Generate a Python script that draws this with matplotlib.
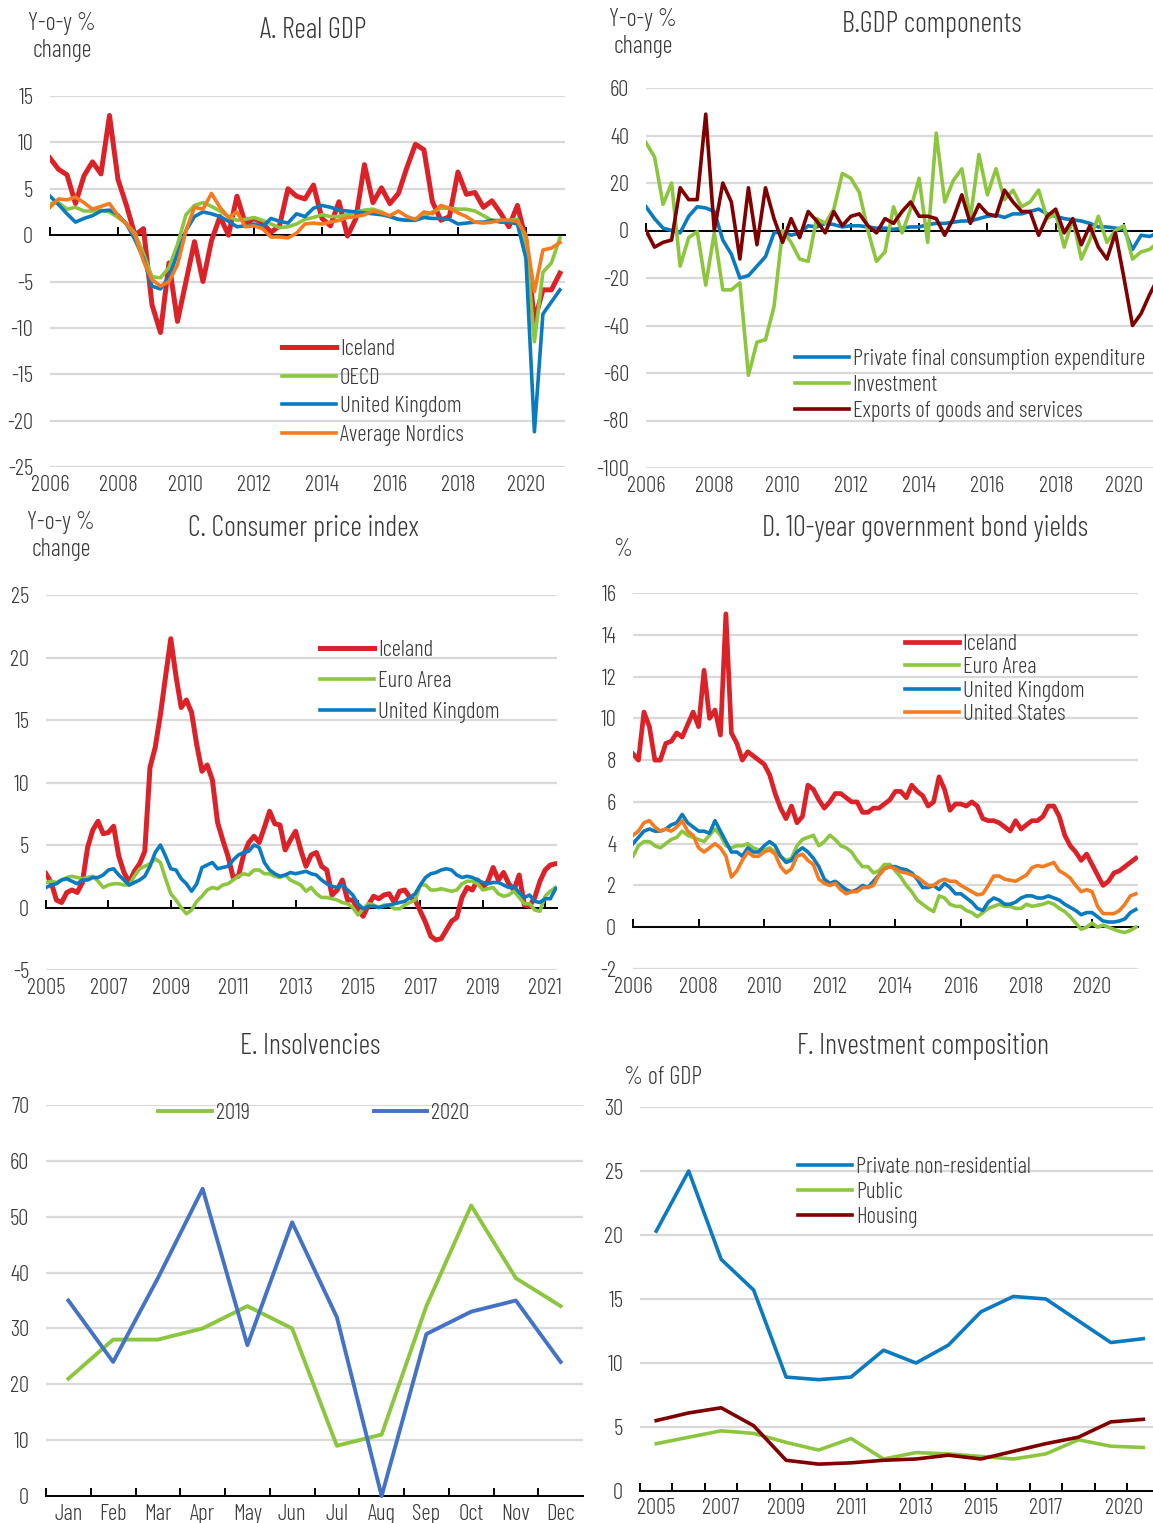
import numpy as np
import matplotlib
matplotlib.use('Agg')
import matplotlib.pyplot as plt

plt.rcParams['font.family'] = ['Barlow Condensed', 'DejaVu Sans']
plt.rcParams['font.weight'] = 300
plt.rcParams['axes.unicode_minus'] = False

###############################################################################
# Data
# A. Real GDP, y-o-y %, quarterly 2006Q1-2021Q1
gdp_quarters = 2006 + np.arange(61) / 4
gdp_iceland = [8.3, 7.1, 6.5, 3.4, 6.4, 7.9, 6.6, 12.9, 6.0, 3.2,
               0.0, 0.7, -7.5, -10.5, -3.0, -9.3, -5.0, -0.7, -5.0, -0.6,
               2.0, 0.0, 4.2, 1.2, 1.8, 1.3, 0.3, 1.0, 5.0, 4.2,
               3.9, 5.4, 1.8, 1.0, 3.6, -0.1, 1.8, 7.6, 3.5, 5.1,
               3.4, 4.5, 7.3, 9.8, 9.2, 3.6, 1.6, 2.0, 6.8, 4.4,
               4.6, 3.0, 3.7, 2.4, 0.9, 3.2, -0.5, -9.3, -5.9, -5.9, -4.1]
gdp_oecd = [3.4, 3.5, 2.8, 3.0, 2.6, 2.6, 2.7, 2.5, 1.9, 1.2,
            0.2, -2.0, -4.5, -4.6, -3.5, -1.0, 2.2, 3.2, 3.5, 3.1,
            2.6, 2.0, 1.6, 1.7, 1.9, 1.6, 1.2, 0.8, 0.9, 1.2,
            1.7, 1.9, 2.2, 2.0, 2.0, 2.2, 2.5, 2.7, 2.8, 2.5,
            2.0, 1.7, 1.6, 1.7, 2.0, 2.5, 2.9, 2.9, 2.8, 2.8,
            2.6, 2.1, 1.6, 1.6, 1.6, 1.7, -0.8, -11.5, -4.0, -3.0, -0.3]
gdp_uk = [4.2, 3.3, 2.3, 1.4, 1.8, 2.1, 2.6, 2.7, 2.2, 1.2,
          -0.5, -2.5, -5.5, -5.8, -4.5, -2.0, 0.5, 2.0, 2.5, 2.3,
          2.0, 1.5, 0.9, 1.0, 1.2, 0.9, 1.8, 1.5, 1.3, 2.3,
          2.0, 2.9, 3.2, 3.0, 2.7, 2.6, 2.5, 2.4, 2.3, 2.2,
          2.0, 1.7, 1.6, 1.6, 1.9, 1.8, 1.8, 1.7, 1.2, 1.3,
          1.4, 1.4, 1.6, 1.4, 1.4, 1.2, -2.5, -21.2, -8.5, -7.2, -5.9]
gdp_nordics = [3.0, 3.9, 3.8, 4.1, 3.5, 2.8, 3.1, 3.4, 2.1, 1.2,
               0.0, -2.8, -4.8, -5.5, -5.0, -3.2, 0.5, 3.0, 2.8, 4.5,
               3.0, 1.9, 2.5, 0.9, 1.0, 0.7, -0.2, -0.2, -0.3, 0.2,
               1.2, 1.3, 1.2, 1.4, 1.6, 1.9, 2.0, 2.2, 2.6, 2.4,
               2.1, 2.6, 2.0, 1.7, 2.5, 2.3, 3.2, 2.9, 2.4, 2.0,
               1.4, 1.3, 1.4, 1.6, 1.6, 1.5, 0.0, -6.1, -1.6, -1.4, -0.8]

# B. GDP components, y-o-y %, quarterly 2006Q1-2021Q1
comp_consumption = [10, 5, 1, 0, -1, 6, 10, 9.5, 8, -4,
                    -10, -20, -19, -15, -11, -1, -0.5, -2, -1, 2,
                    1.5, 3, 2.5, 1.5, 2, 2, 1.5, 1, 1, 0.5,
                    1, 1.5, 1.5, 2.5, 3, 3, 3.5, 4, 4, 5,
                    6, 6.5, 5.5, 7, 7, 8, 9, 7, 6, 5,
                    4.5, 4, 3, 1.5, 1.5, 1, 0.5, -8, -2, -2.5, -1]
comp_investment = [37, 31, 11, 20, -15, -3, -0.5, -23, -1, -25,
                   -25, -22, -61, -47, -46, -32, 0, -5, -12, -13,
                   5, 3, 9, 24, 22, 16, 0, -13, -9, 10,
                   -1, 9, 22, -5, 41, 12, 21, 26, 5, 32,
                   15, 26, 13, 17, 10, 12, 17, 5, 7, -7,
                   5, -12, -4, 6, -5, 0, 2, -12, -9, -8, -5]
comp_exports = [0, -7, -5, -4, 18, 13, 13, 49, 0, 20,
                12, -12, 18, -6, 18, 5, -5, 5, -3, 8,
                4, -1, 8, 2, 6, 7, 2, -1, 5, 3,
                8, 12, 6, 6, 5, -2, 5, 15, 3, 11,
                7, 6, 17, 12, 8, 8, -2, 6, 9, -1,
                5, -6, 2, -7, -12, -1, -20, -40, -35, -27, -20]

# C. Consumer price index, y-o-y %, every two months Jan 2005 - May 2021
cpi_dates = 2005 + np.arange(99) / 6
cpi_iceland = [2.7, 2.0, 0.6, 0.4, 1.2, 1.4, 1.2, 2.0, 4.8, 6.2,
               6.9, 5.9, 6.0, 6.5, 4.1, 2.8, 2.0, 2.9, 3.5, 4.5,
               11.2, 12.8, 15.4, 18.5, 21.5, 18.5, 16.0, 16.6, 15.6, 13.0,
               10.9, 11.4, 10.2, 6.8, 5.4, 4.1, 2.4, 2.5, 4.2, 5.2,
               5.7, 5.2, 6.4, 7.7, 6.7, 6.6, 4.6, 5.4, 6.1, 4.6,
               3.3, 4.2, 4.4, 3.3, 3.0, 1.0, 1.4, 2.2, 0.6, 0.6,
               -0.2, -0.7, 0.2, 0.9, 0.7, 1.0, 1.1, 0.4, 1.3, 1.4,
               0.8, 0.6, -0.3, -1.2, -2.3, -2.6, -2.5, -1.8, -1.1, -0.8,
               0.8, 1.6, 1.4, 2.2, 1.6, 2.1, 3.2, 2.2, 2.8, 1.9,
               1.4, 2.6, 0.2, 0.1, 0.8, 2.1, 3.0, 3.4, 3.5]
cpi_euro = [2.0, 2.1, 2.0, 2.2, 2.4, 2.5, 2.4, 2.3, 2.4, 2.5,
            2.1, 1.6, 1.8, 1.9, 1.9, 1.8, 1.8, 2.5, 3.1, 3.3,
            3.5, 3.9, 3.6, 2.3, 1.1, 0.6, 0.0, -0.5, -0.2, 0.5,
            0.9, 1.4, 1.6, 1.5, 1.8, 1.9, 2.2, 2.5, 2.7, 2.6,
            3.0, 3.0, 2.7, 2.7, 2.5, 2.4, 2.6, 2.2, 2.0, 1.8,
            1.3, 1.6, 1.1, 0.8, 0.8, 0.7, 0.6, 0.4, 0.3, 0.0,
            -0.6, -0.1, 0.3, 0.2, 0.0, 0.2, 0.2, -0.1, -0.1, 0.2,
            0.4, 0.6, 1.8, 1.8, 1.4, 1.4, 1.5, 1.4, 1.3, 1.4,
            1.9, 2.1, 2.1, 1.9, 1.4, 1.5, 1.6, 1.1, 0.9, 1.0,
            1.3, 0.8, 0.3, 0.3, -0.2, -0.3, 0.9, 1.3, 1.6]
cpi_uk = [1.6, 1.8, 1.9, 2.2, 2.3, 2.1, 1.9, 2.2, 2.2, 2.4,
          2.4, 2.6, 3.0, 3.1, 2.6, 2.2, 1.8, 2.0, 2.2, 2.5,
          3.3, 4.4, 5.0, 4.1, 3.1, 3.0, 2.3, 1.9, 1.3, 1.9,
          3.2, 3.4, 3.6, 3.1, 3.2, 3.3, 3.8, 4.2, 4.4, 4.5,
          5.0, 4.8, 3.6, 3.0, 2.7, 2.5, 2.6, 2.8, 2.7, 2.8,
          2.9, 2.7, 2.6, 2.2, 1.9, 1.7, 1.6, 1.8, 1.4, 1.0,
          0.3, -0.1, 0.1, 0.1, 0.0, 0.1, 0.2, 0.3, 0.4, 0.5,
          0.8, 1.1, 1.8, 2.4, 2.7, 2.8, 3.0, 3.1, 3.0, 2.6,
          2.4, 2.5, 2.4, 2.2, 2.0, 1.9, 2.0, 2.0, 1.8, 1.6,
          1.7, 1.2, 0.8, 1.0, 0.5, 0.4, 0.7, 0.7, 1.5]

# D. 10-year government bond yields, %, every two months Jan 2006 - May 2021
bond_dates = 2006 + np.arange(93) / 6
bond_iceland = [8.3, 8.0, 10.3, 9.6, 8.0, 8.0, 8.8, 8.9, 9.3, 9.1,
                9.7, 10.3, 9.6, 12.3, 10.0, 10.4, 9.2, 15.0, 9.3, 8.8,
                8.0, 8.4, 8.2, 8.0, 7.8, 7.3, 6.4, 5.7, 5.2, 5.8,
                5.0, 5.3, 6.8, 6.6, 6.1, 5.7, 6.0, 6.4, 6.4, 6.2,
                6.0, 6.0, 5.5, 5.5, 5.7, 5.7, 5.9, 6.1, 6.5, 6.5,
                6.2, 6.8, 6.5, 6.3, 5.8, 6.0, 7.2, 6.6, 5.6, 5.9,
                5.9, 5.8, 6.0, 5.8, 5.2, 5.1, 5.1, 5.0, 4.8, 4.6,
                5.1, 4.7, 4.9, 5.1, 5.1, 5.3, 5.8, 5.8, 5.3, 4.4,
                3.9, 3.6, 3.2, 3.5, 3.0, 2.5, 2.0, 2.2, 2.6, 2.7,
                2.9, 3.1, 3.3]
bond_euro = [3.4, 3.9, 4.1, 4.1, 3.9, 3.8, 4.0, 4.2, 4.3, 4.6,
             4.4, 4.3, 4.2, 4.1, 4.4, 4.7, 4.4, 3.9, 3.8, 3.9,
             3.9, 4.0, 3.8, 3.7, 3.7, 3.8, 3.6, 3.4, 3.2, 3.3,
             3.9, 4.2, 4.3, 4.4, 3.9, 4.1, 4.4, 4.2, 3.9, 3.8,
             3.6, 3.2, 2.9, 2.9, 2.6, 2.7, 3.0, 3.0, 2.7, 2.4,
             2.0, 1.7, 1.3, 1.1, 0.9, 0.75, 1.5, 1.4, 1.1, 1.0,
             1.0, 0.8, 0.7, 0.5, 0.7, 0.9, 1.0, 1.1, 1.0, 1.0,
             0.9, 0.9, 1.1, 1.0, 1.05, 1.1, 1.2, 1.1, 0.9, 0.75,
             0.5, 0.2, -0.1, 0.0, 0.2, 0.0, 0.1, 0.0, -0.1, -0.2,
             -0.25, -0.15, 0.0]
bond_uk = [4.0, 4.3, 4.6, 4.7, 4.6, 4.6, 4.7, 4.9, 5.0, 5.4,
           5.0, 4.8, 4.6, 4.6, 4.5, 5.1, 4.6, 4.1, 3.6, 3.6,
           3.4, 3.8, 3.6, 3.6, 3.9, 4.1, 3.9, 3.4, 3.1, 3.2,
           3.6, 3.8, 3.6, 3.3, 2.9, 2.3, 2.1, 2.2, 2.0, 1.8,
           1.7, 1.8, 2.0, 1.9, 2.2, 2.5, 2.8, 2.9, 2.9, 2.8,
           2.75, 2.6, 2.3, 1.9, 1.9, 2.0, 1.8, 2.1, 1.9, 1.6,
           1.6, 1.4, 1.2, 0.9, 0.8, 1.2, 1.4, 1.3, 1.1, 1.1,
           1.2, 1.4, 1.5, 1.5, 1.4, 1.4, 1.5, 1.4, 1.3, 1.1,
           0.95, 0.8, 0.6, 0.7, 0.7, 0.5, 0.3, 0.25, 0.25, 0.3,
           0.4, 0.7, 0.85]
bond_us = [4.4, 4.6, 5.0, 5.1, 4.8, 4.6, 4.7, 4.6, 4.8, 5.1,
           4.6, 4.4, 3.8, 3.6, 3.8, 4.0, 3.8, 3.4, 2.4, 2.7,
           3.2, 3.6, 3.4, 3.4, 3.6, 3.7, 3.5, 2.9, 2.6, 2.8,
           3.4, 3.5, 3.2, 3.0, 2.3, 2.1, 2.0, 2.1, 1.8, 1.6,
           1.7, 1.7, 1.9, 1.9, 2.0, 2.5, 2.8, 2.9, 2.8, 2.65,
           2.6, 2.5, 2.4, 2.2, 2.0, 2.0, 2.2, 2.3, 2.2, 2.2,
           2.0, 1.85, 1.7, 1.55, 1.6, 2.0, 2.45, 2.45, 2.3, 2.25,
           2.2, 2.35, 2.5, 2.85, 2.95, 2.9, 3.0, 3.1, 2.7, 2.55,
           2.35, 2.0, 1.7, 1.8, 1.7, 1.0, 0.65, 0.65, 0.65, 0.8,
           1.1, 1.5, 1.6]

# E. Insolvencies
months = ['Jan', 'Feb', 'Mar', 'Apr', 'May', 'Jun',
          'Jul', 'Aug', 'Sep', 'Oct', 'Nov', 'Dec']
insolv_2019 = [21, 28, 28, 30, 34, 30, 9, 11, 34, 52, 39, 34]
insolv_2020 = [35, 24, 39, 55, 27, 49, 32, 0, 29, 33, 35, 24]

# F. Investment composition, % of GDP
inv_years = list(range(2005, 2021))
inv_private = [20.3, 25.0, 18.1, 15.7, 8.9, 8.7, 8.9, 11.0,
               10.0, 11.4, 14.0, 15.2, 15.0, 13.3, 11.6, 11.9]
inv_public = [3.7, 4.2, 4.7, 4.5, 3.8, 3.2, 4.1, 2.5,
              3.0, 2.9, 2.7, 2.5, 2.9, 4.0, 3.5, 3.4]
inv_housing = [5.5, 6.1, 6.5, 5.1, 2.4, 2.1, 2.2, 2.4,
               2.5, 2.8, 2.5, 3.1, 3.7, 4.2, 5.4, 5.6]

###############################################################################
# Styles
RED = '#DC2229'
GREEN = '#8CC63F'
BLUE = '#0A7BC1'
ORANGE = '#F47B20'
DARKRED = '#800000'
BLUE2 = '#4472C4'
GRID = '#D9D9D9'
TXT = '#3A3A3A'
FS = 16.5
W, H = 1153, 1523

fig = plt.figure(figsize=(W / 100, H / 100), dpi=100)


def add_ax(l, t, r, b):
    return fig.add_axes([l / W, 1 - b / H, (r - l) / W, (b - t) / H])


def base_style(ax, yticks):
    ax.set_ylim(yticks[0], yticks[-1])
    ax.set_yticks(yticks)
    ax.yaxis.grid(True, color=GRID, lw=1.6)
    ax.set_axisbelow(True)
    for s in ['left', 'right', 'top']:
        ax.spines[s].set_visible(False)
    ax.spines['bottom'].set_color('black')
    ax.spines['bottom'].set_linewidth(1.4)
    ax.spines['bottom'].set_zorder(2.5)
    ax.tick_params(axis='y', length=0, pad=12, labelsize=FS, labelcolor=TXT)


def time_axis(ax, xlim, ticks):
    ax.set_xlim(xlim)
    ax.spines['bottom'].set_position(('data', 0))
    ax.set_xticks(ticks)
    ax.tick_params(axis='x', direction='in', length=6, width=1.4,
                   labelbottom=False)
    sec = ax.secondary_xaxis('bottom')
    sec.set_xticks(ticks, [str(t) for t in ticks])
    sec.tick_params(length=0, pad=6, labelsize=FS, labelcolor=TXT)
    sec.spines['bottom'].set_visible(False)


def legend(ax, x, y, spacing, ncol=1, colsp=2.0):
    leg = ax.legend(loc='upper left', bbox_to_anchor=(x / W, 1 - y / H),
                    bbox_transform=fig.transFigure, frameon=False,
                    fontsize=FS, borderpad=0, borderaxespad=0,
                    handlelength=2.35, handletextpad=0.17,
                    labelspacing=spacing, ncol=ncol, columnspacing=colsp)
    for t in leg.get_texts():
        t.set_color(TXT)
    return leg


def title(x, y, s, size=20.5):
    fig.text(x / W, 1 - y / H, s, ha='center', va='center',
             fontsize=size, color=TXT)


UNIT = 17.5

###############################################################################
# A. Real GDP
ax = add_ax(50, 96, 565, 467)
ax.plot(gdp_quarters, gdp_iceland, color=RED, lw=3.6, label='Iceland', zorder=3)
ax.plot(gdp_quarters, gdp_oecd, color=GREEN, lw=2.6, label='OECD', zorder=3)
ax.plot(gdp_quarters, gdp_uk, color=BLUE, lw=2.6, label='United Kingdom', zorder=3)
ax.plot(gdp_quarters, gdp_nordics, color=ORANGE, lw=2.6, label='Average Nordics', zorder=3)
base_style(ax, [-25, -20, -15, -10, -5, 0, 5, 10, 15])
time_axis(ax, (2006, 2021.15), list(range(2006, 2021, 2)))
legend(ax, 282, 339, 0.33)
title(313, 31, 'A. Real GDP')
title(62, 37, 'Y-o-y %\nchange', size=UNIT)

# B. GDP components
ax = add_ax(646, 88, 1153, 468)
ax.plot(gdp_quarters, comp_consumption, color=BLUE, lw=2.6,
        label='Private final consumption expenditure', zorder=3)
ax.plot(gdp_quarters, comp_investment, color=GREEN, lw=2.6,
        label='Investment', zorder=3)
ax.plot(gdp_quarters, comp_exports, color=DARKRED, lw=2.6,
        label='Exports of goods and services', zorder=3)
base_style(ax, list(range(-100, 61, 20)))
time_axis(ax, (2006, 2020.85), list(range(2006, 2021, 2)))
legend(ax, 795, 349, 0.21)
title(932, 24, 'B.GDP components')
title(643, 33, 'Y-o-y %\nchange', size=UNIT)

# C. Consumer price index
ax = add_ax(46, 595, 557, 970)
ax.plot(cpi_dates, cpi_iceland, color=RED, lw=3.6, label='Iceland', zorder=3)
ax.plot(cpi_dates, cpi_euro, color=GREEN, lw=2.6, label='Euro Area', zorder=3)
ax.plot(cpi_dates, cpi_uk, color=BLUE, lw=2.6, label='United Kingdom', zorder=3)
base_style(ax, [-5, 0, 5, 10, 15, 20, 25])
time_axis(ax, (2005, 2021.38), list(range(2005, 2022, 2)))
legend(ax, 320, 640, 0.43)
title(303, 529, 'C. Consumer price index')
title(61, 536, 'Y-o-y %\nchange', size=UNIT)

# D. 10-year government bond yields
ax = add_ax(633, 593, 1138, 969)
ax.plot(bond_dates, bond_iceland, color=RED, lw=3.4, label='Iceland', zorder=3)
ax.plot(bond_dates, bond_euro, color=GREEN, lw=2.6, label='Euro Area', zorder=3)
ax.plot(bond_dates, bond_uk, color=BLUE, lw=2.6, label='United Kingdom', zorder=3)
ax.plot(bond_dates, bond_us, color=ORANGE, lw=2.6, label='United States', zorder=3)
base_style(ax, list(range(-2, 17, 2)))
time_axis(ax, (2006, 2021.4), list(range(2006, 2021, 2)))
legend(ax, 905, 634, 0.1)
title(925, 528, 'D. 10-year government bond yields')
title(623, 550, '%', size=UNIT)

# E. Insolvencies
ax = add_ax(46, 1105, 583, 1496)
x = np.arange(len(months))
ax.plot(x, insolv_2019, color=GREEN, lw=2.8, label='2019', zorder=3, clip_on=False)
ax.plot(x, insolv_2020, color=BLUE2, lw=2.8, label='2020', zorder=3, clip_on=False)
base_style(ax, list(range(0, 71, 10)))
ax.set_xlim(-0.5, 11.5)
ax.set_xticks(x, months)
ax.set_xticks(np.arange(-0.5, 11.5, 1), minor=True)
ax.tick_params(axis='x', which='major', length=0, pad=6, labelsize=FS, labelcolor=TXT)
ax.tick_params(axis='x', which='minor', direction='in', length=6, width=1.4)
legend(ax, 158, 1103, 0.3, ncol=2, colsp=5.4)
title(310, 1046, 'E. Insolvencies')

# F. Investment composition
ax = add_ax(640, 1107, 1153, 1491)
xi = np.arange(len(inv_years))
ax.plot(xi, inv_private, color=BLUE, lw=2.6, label='Private non-residential', zorder=3)
ax.plot(xi, inv_public, color=GREEN, lw=2.6, label='Public', zorder=3)
ax.plot(xi, inv_housing, color=DARKRED, lw=2.6, label='Housing', zorder=3)
base_style(ax, list(range(0, 31, 5)))
ax.set_xlim(-0.5, 15.3)
lab_idx = [0, 2, 4, 6, 8, 10, 12, 15]
ax.set_xticks(lab_idx, [str(inv_years[i]) for i in lab_idx])
ax.get_xticklabels()[-1].set_horizontalalignment('right')
ax.set_xticks(np.arange(-0.5, 15, 1), minor=True)
ax.tick_params(axis='x', which='major', length=0, pad=5, labelsize=FS, labelcolor=TXT)
ax.tick_params(axis='x', which='minor', direction='in', length=6, width=1.4)
legend(ax, 798, 1157, 0.17)
title(923, 1046, 'F. Investment composition')
title(663, 1077, '% of GDP', size=UNIT)

fig.savefig('out.png', dpi=100)
